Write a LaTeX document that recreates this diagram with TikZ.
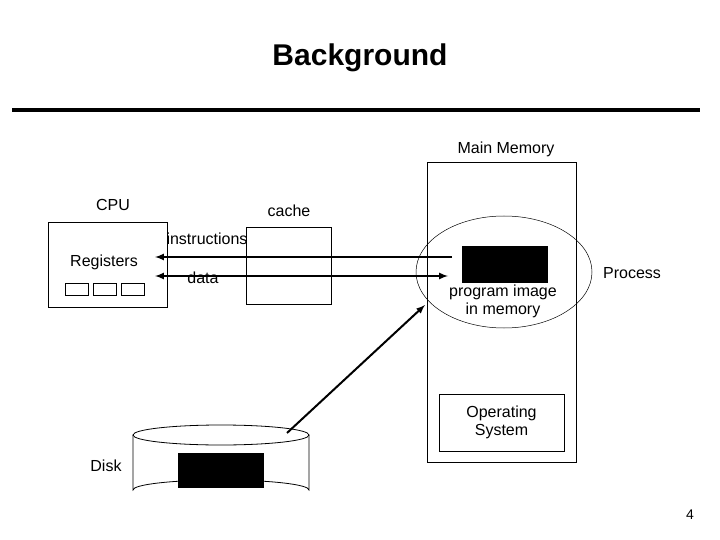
\documentclass[tikz,border=0pt]{standalone}
\usepackage{fontspec}
\setmainfont{Liberation Sans}
\begin{document}
\begin{tikzpicture}[x=1pt,y=-1pt,
  lbl/.style={font=\fontsize{16}{18}\selectfont,inner sep=0pt,align=center},
  box/.style={draw,line width=0.8pt},
  arr/.style={line width=2pt,-latex}]
\useasboundingbox (0,0) rectangle (720,540);
\node[font=\bfseries\fontsize{30}{34}\selectfont] (title) at (360,58) {Background};
\draw[line width=4pt] (12,110) coordinate (l1) -- (700,110) coordinate (l2);
\node[lbl] (mm) at (506,149) {Main Memory};
\draw[box] (427,162) rectangle (576,462);
\node[box,minimum width=125,minimum height=57,lbl,draw] (os) at (501.5,422.5) {Operating\\System};
\draw[line width=0.5pt] (504,272) ellipse (88 and 56);
\node[fill=black,minimum width=86,minimum height=37,inner sep=0] (img) at (505,264) {};
\node[lbl] (pi) at (503,301) {program image\\in memory};
\node[lbl] (proc) at (632,273) {Process};
\node[lbl] (cpu) at (113,205) {CPU};
\draw[box] (48,222) rectangle (167,307);
\node[lbl] (reg) at (104,262) {Registers};
\foreach \x in {65,93,121} \draw[box] (\x,283) rectangle ++(23,12);
\node[lbl] (cache) at (289,211) {cache};
\draw[box] (246,227) rectangle (331,304);
\node[lbl] (ins) at (207,239) {instructions};
\node[lbl] (data) at (203,278) {data};
\coordinate (a1) at (452,257); \coordinate (a2) at (155,257);
\coordinate (b1) at (155,276); \coordinate (b2) at (448,276);
\draw[arr] (a1) -- (a2);
\draw[arr,latex-latex] (b1) -- (b2);
% disk
\draw[box] (133,435) -- (133,490) arc[start angle=180,end angle=360,x radius=88,y radius=10] -- (309,435);
\draw[box] (221,435) ellipse (88 and 10);
\node[fill=black,minimum width=86,minimum height=35,inner sep=0] (dimg) at (221,470) {};
\node[lbl] (disk) at (106,466) {Disk};
\coordinate (d1) at (287,433); \coordinate (d2) at (425,305);
\draw[arr] (d1) -- (d2);
\node[font=\fontsize{14}{16}\selectfont] (pg) at (690,515) {4};
\end{tikzpicture}
\end{document}
